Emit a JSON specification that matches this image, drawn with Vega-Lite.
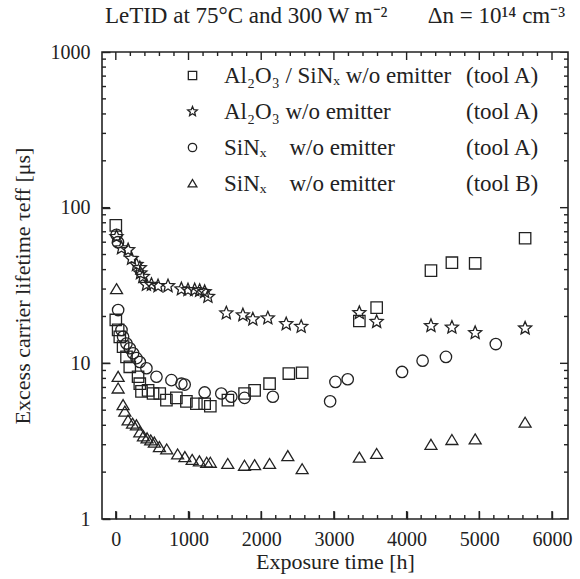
{
  "$schema": "https://vega.github.io/schema/vega-lite/v6.json",
  "autosize": "none",
  "width": 466,
  "height": 467,
  "padding": {"left": 102, "top": 52, "right": 12, "bottom": 60},
  "background": "white",
  "config": {
    "font": "Liberation Serif",
    "view": {"stroke": "#222", "strokeWidth": 1.6},
    "axis": {"domain": false, "grid": false, "labelFont": "Liberation Serif", "titleFont": "Liberation Serif", "labelFontSize": 20, "titleFontSize": 22, "labelColor": "#222", "titleColor": "#222", "titleFontWeight": "normal", "tickColor": "#222", "tickWidth": 1.4, "labelOverlap": false},
    "legend": {"labelFont": "Liberation Serif", "labelFontSize": 23, "labelColor": "#222", "labelLimit": 0}
  },
  "title": {"text": "LeTID at 75°C and 300 W m⁻²\u00a0\u00a0\u00a0\u00a0\u00a0\u00a0\u00a0Δn = 10¹⁴ cm⁻³", "font": "Liberation Serif", "fontSize": 23, "fontWeight": "normal", "color": "#222", "anchor": "middle", "offset": 14},
  "datasets": {
    "xticks": [
      {"v": 0, "kind": "major"}, {"v": 200, "kind": "minor"}, {"v": 400, "kind": "minor"}, {"v": 600, "kind": "minor"}, {"v": 800, "kind": "minor"},
      {"v": 1000, "kind": "major"}, {"v": 1200, "kind": "minor"}, {"v": 1400, "kind": "minor"}, {"v": 1600, "kind": "minor"}, {"v": 1800, "kind": "minor"},
      {"v": 2000, "kind": "major"}, {"v": 2200, "kind": "minor"}, {"v": 2400, "kind": "minor"}, {"v": 2600, "kind": "minor"}, {"v": 2800, "kind": "minor"},
      {"v": 3000, "kind": "major"}, {"v": 3200, "kind": "minor"}, {"v": 3400, "kind": "minor"}, {"v": 3600, "kind": "minor"}, {"v": 3800, "kind": "minor"},
      {"v": 4000, "kind": "major"}, {"v": 4200, "kind": "minor"}, {"v": 4400, "kind": "minor"}, {"v": 4600, "kind": "minor"}, {"v": 4800, "kind": "minor"},
      {"v": 5000, "kind": "major"}, {"v": 5200, "kind": "minor"}, {"v": 5400, "kind": "minor"}, {"v": 5600, "kind": "minor"}, {"v": 5800, "kind": "minor"},
      {"v": 6000, "kind": "major"}
    ],
    "yticks": [
      {"v": 1, "kind": "major"}, {"v": 2, "kind": "minor"}, {"v": 3, "kind": "minor"}, {"v": 4, "kind": "minor"}, {"v": 5, "kind": "minor"}, {"v": 6, "kind": "minor"}, {"v": 7, "kind": "minor"}, {"v": 8, "kind": "minor"}, {"v": 9, "kind": "minor"},
      {"v": 10, "kind": "major"}, {"v": 20, "kind": "minor"}, {"v": 30, "kind": "minor"}, {"v": 40, "kind": "minor"}, {"v": 50, "kind": "minor"}, {"v": 60, "kind": "minor"}, {"v": 70, "kind": "minor"}, {"v": 80, "kind": "minor"}, {"v": 90, "kind": "minor"},
      {"v": 100, "kind": "major"}, {"v": 200, "kind": "minor"}, {"v": 300, "kind": "minor"}, {"v": 400, "kind": "minor"}, {"v": 500, "kind": "minor"}, {"v": 600, "kind": "minor"}, {"v": 700, "kind": "minor"}, {"v": 800, "kind": "minor"}, {"v": 900, "kind": "minor"},
      {"v": 1000, "kind": "major"}
    ]
  },
  "data": {"values": [
    {"sample": "Al2O3/SiNx A", "tool": "A1", "t": 0, "tau": 77},
    {"sample": "Al2O3/SiNx A", "tool": "A1", "t": 0, "tau": 19},
    {"sample": "Al2O3/SiNx A", "tool": "A1", "t": 32, "tau": 16.4},
    {"sample": "Al2O3/SiNx A", "tool": "A1", "t": 55, "tau": 14.8},
    {"sample": "Al2O3/SiNx A", "tool": "A1", "t": 100, "tau": 12.8},
    {"sample": "Al2O3/SiNx A", "tool": "A1", "t": 147, "tau": 11},
    {"sample": "Al2O3/SiNx A", "tool": "A1", "t": 192, "tau": 9.5},
    {"sample": "Al2O3/SiNx A", "tool": "A1", "t": 306, "tau": 8.2},
    {"sample": "Al2O3/SiNx A", "tool": "A1", "t": 330, "tau": 7.4},
    {"sample": "Al2O3/SiNx A", "tool": "A1", "t": 353, "tau": 6.6},
    {"sample": "Al2O3/SiNx A", "tool": "A1", "t": 444, "tau": 6.7},
    {"sample": "Al2O3/SiNx A", "tool": "A1", "t": 512, "tau": 6.4},
    {"sample": "Al2O3/SiNx A", "tool": "A1", "t": 604, "tau": 6.4},
    {"sample": "Al2O3/SiNx A", "tool": "A1", "t": 696, "tau": 5.8},
    {"sample": "Al2O3/SiNx A", "tool": "A1", "t": 833, "tau": 6.0},
    {"sample": "Al2O3/SiNx A", "tool": "A1", "t": 971, "tau": 5.7},
    {"sample": "Al2O3/SiNx A", "tool": "A1", "t": 1108, "tau": 5.5},
    {"sample": "Al2O3/SiNx A", "tool": "A1", "t": 1222, "tau": 5.5},
    {"sample": "Al2O3/SiNx A", "tool": "A1", "t": 1300, "tau": 5.3},
    {"sample": "Al2O3/SiNx A", "tool": "A1", "t": 1542, "tau": 5.8},
    {"sample": "Al2O3/SiNx A", "tool": "A1", "t": 1771, "tau": 6.4},
    {"sample": "Al2O3/SiNx A", "tool": "A1", "t": 1909, "tau": 6.7},
    {"sample": "Al2O3/SiNx A", "tool": "A1", "t": 2115, "tau": 7.4},
    {"sample": "Al2O3/SiNx A", "tool": "A1", "t": 2380, "tau": 8.6},
    {"sample": "Al2O3/SiNx A", "tool": "A1", "t": 2563, "tau": 8.7},
    {"sample": "Al2O3/SiNx A", "tool": "A1", "t": 3350, "tau": 18.7},
    {"sample": "Al2O3/SiNx A", "tool": "A1", "t": 3588, "tau": 22.8},
    {"sample": "Al2O3/SiNx A", "tool": "A1", "t": 4335, "tau": 39.4},
    {"sample": "Al2O3/SiNx A", "tool": "A1", "t": 4623, "tau": 44.3},
    {"sample": "Al2O3/SiNx A", "tool": "A1", "t": 4943, "tau": 43.9},
    {"sample": "Al2O3/SiNx A", "tool": "A1", "t": 5630, "tau": 63.6},

    {"sample": "Al2O3 A", "tool": "A2", "t": 10, "tau": 65},
    {"sample": "Al2O3 A", "tool": "A2", "t": 78, "tau": 55},
    {"sample": "Al2O3 A", "tool": "A2", "t": 169, "tau": 53.5},
    {"sample": "Al2O3 A", "tool": "A2", "t": 216, "tau": 47},
    {"sample": "Al2O3 A", "tool": "A2", "t": 284, "tau": 43},
    {"sample": "Al2O3 A", "tool": "A2", "t": 330, "tau": 41},
    {"sample": "Al2O3 A", "tool": "A2", "t": 339, "tau": 38},
    {"sample": "Al2O3 A", "tool": "A2", "t": 371, "tau": 36},
    {"sample": "Al2O3 A", "tool": "A2", "t": 421, "tau": 32},
    {"sample": "Al2O3 A", "tool": "A2", "t": 490, "tau": 32},
    {"sample": "Al2O3 A", "tool": "A2", "t": 581, "tau": 31.4},
    {"sample": "Al2O3 A", "tool": "A2", "t": 718, "tau": 31.4},
    {"sample": "Al2O3 A", "tool": "A2", "t": 902, "tau": 30},
    {"sample": "Al2O3 A", "tool": "A2", "t": 993, "tau": 29.6},
    {"sample": "Al2O3 A", "tool": "A2", "t": 1085, "tau": 29.6},
    {"sample": "Al2O3 A", "tool": "A2", "t": 1153, "tau": 29.3},
    {"sample": "Al2O3 A", "tool": "A2", "t": 1222, "tau": 28.8},
    {"sample": "Al2O3 A", "tool": "A2", "t": 1267, "tau": 26.8},
    {"sample": "Al2O3 A", "tool": "A2", "t": 1520, "tau": 21},
    {"sample": "Al2O3 A", "tool": "A2", "t": 1748, "tau": 20.4},
    {"sample": "Al2O3 A", "tool": "A2", "t": 1885, "tau": 19.2},
    {"sample": "Al2O3 A", "tool": "A2", "t": 2091, "tau": 19.5},
    {"sample": "Al2O3 A", "tool": "A2", "t": 2344, "tau": 17.9},
    {"sample": "Al2O3 A", "tool": "A2", "t": 2550, "tau": 17.2},
    {"sample": "Al2O3 A", "tool": "A2", "t": 3350, "tau": 21.1},
    {"sample": "Al2O3 A", "tool": "A2", "t": 3588, "tau": 18.5},
    {"sample": "Al2O3 A", "tool": "A2", "t": 4335, "tau": 17.4},
    {"sample": "Al2O3 A", "tool": "A2", "t": 4623, "tau": 17},
    {"sample": "Al2O3 A", "tool": "A2", "t": 4943, "tau": 15.7},
    {"sample": "Al2O3 A", "tool": "A2", "t": 5630, "tau": 16.8},

    {"sample": "SiNx A", "tool": "A3", "t": 10, "tau": 67},
    {"sample": "SiNx A", "tool": "A3", "t": 30, "tau": 60},
    {"sample": "SiNx A", "tool": "A3", "t": 32, "tau": 22},
    {"sample": "SiNx A", "tool": "A3", "t": 78, "tau": 16.4},
    {"sample": "SiNx A", "tool": "A3", "t": 100, "tau": 14.8},
    {"sample": "SiNx A", "tool": "A3", "t": 147, "tau": 13.4},
    {"sample": "SiNx A", "tool": "A3", "t": 192, "tau": 12.5},
    {"sample": "SiNx A", "tool": "A3", "t": 238, "tau": 11.6},
    {"sample": "SiNx A", "tool": "A3", "t": 284, "tau": 10.8},
    {"sample": "SiNx A", "tool": "A3", "t": 330, "tau": 10.2},
    {"sample": "SiNx A", "tool": "A3", "t": 421, "tau": 9.3},
    {"sample": "SiNx A", "tool": "A3", "t": 559, "tau": 8.2},
    {"sample": "SiNx A", "tool": "A3", "t": 765, "tau": 7.8},
    {"sample": "SiNx A", "tool": "A3", "t": 902, "tau": 7.4},
    {"sample": "SiNx A", "tool": "A3", "t": 947, "tau": 7.3},
    {"sample": "SiNx A", "tool": "A3", "t": 1222, "tau": 6.5},
    {"sample": "SiNx A", "tool": "A3", "t": 1451, "tau": 6.4},
    {"sample": "SiNx A", "tool": "A3", "t": 1589, "tau": 6.1},
    {"sample": "SiNx A", "tool": "A3", "t": 1771, "tau": 6.0},
    {"sample": "SiNx A", "tool": "A3", "t": 2160, "tau": 6.1},
    {"sample": "SiNx A", "tool": "A3", "t": 2948, "tau": 5.7},
    {"sample": "SiNx A", "tool": "A3", "t": 3021, "tau": 7.6},
    {"sample": "SiNx A", "tool": "A3", "t": 3190, "tau": 7.9},
    {"sample": "SiNx A", "tool": "A3", "t": 3937, "tau": 8.8},
    {"sample": "SiNx A", "tool": "A3", "t": 4220, "tau": 10.4},
    {"sample": "SiNx A", "tool": "A3", "t": 4541, "tau": 11.0},
    {"sample": "SiNx A", "tool": "A3", "t": 5227, "tau": 13.3},

    {"sample": "SiNx B", "tool": "B", "t": 10, "tau": 30},
    {"sample": "SiNx B", "tool": "B", "t": 32, "tau": 8.2},
    {"sample": "SiNx B", "tool": "B", "t": 32, "tau": 6.9},
    {"sample": "SiNx B", "tool": "B", "t": 100, "tau": 5.4},
    {"sample": "SiNx B", "tool": "B", "t": 124, "tau": 4.9},
    {"sample": "SiNx B", "tool": "B", "t": 169, "tau": 4.3},
    {"sample": "SiNx B", "tool": "B", "t": 230, "tau": 4.1},
    {"sample": "SiNx B", "tool": "B", "t": 284, "tau": 4.0},
    {"sample": "SiNx B", "tool": "B", "t": 330, "tau": 3.6},
    {"sample": "SiNx B", "tool": "B", "t": 380, "tau": 3.4},
    {"sample": "SiNx B", "tool": "B", "t": 430, "tau": 3.3},
    {"sample": "SiNx B", "tool": "B", "t": 480, "tau": 3.2},
    {"sample": "SiNx B", "tool": "B", "t": 530, "tau": 3.1},
    {"sample": "SiNx B", "tool": "B", "t": 600, "tau": 2.9},
    {"sample": "SiNx B", "tool": "B", "t": 700, "tau": 2.8},
    {"sample": "SiNx B", "tool": "B", "t": 850, "tau": 2.6},
    {"sample": "SiNx B", "tool": "B", "t": 950, "tau": 2.5},
    {"sample": "SiNx B", "tool": "B", "t": 1050, "tau": 2.4},
    {"sample": "SiNx B", "tool": "B", "t": 1150, "tau": 2.35},
    {"sample": "SiNx B", "tool": "B", "t": 1250, "tau": 2.3},
    {"sample": "SiNx B", "tool": "B", "t": 1300, "tau": 2.3},
    {"sample": "SiNx B", "tool": "B", "t": 1540, "tau": 2.26},
    {"sample": "SiNx B", "tool": "B", "t": 1770, "tau": 2.2},
    {"sample": "SiNx B", "tool": "B", "t": 1909, "tau": 2.22},
    {"sample": "SiNx B", "tool": "B", "t": 2115, "tau": 2.26},
    {"sample": "SiNx B", "tool": "B", "t": 2366, "tau": 2.54},
    {"sample": "SiNx B", "tool": "B", "t": 2563, "tau": 2.09},
    {"sample": "SiNx B", "tool": "B", "t": 3350, "tau": 2.48},
    {"sample": "SiNx B", "tool": "B", "t": 3588, "tau": 2.62},
    {"sample": "SiNx B", "tool": "B", "t": 4335, "tau": 3.0},
    {"sample": "SiNx B", "tool": "B", "t": 4623, "tau": 3.22},
    {"sample": "SiNx B", "tool": "B", "t": 4943, "tau": 3.25},
    {"sample": "SiNx B", "tool": "B", "t": 5630, "tau": 4.16}
  ]},
  "resolve": {"axis": {"x": "independent", "y": "independent"}},
  "layer": [
    {
      "mark": {"type": "point", "filled": false, "strokeWidth": 1.3, "size": 130, "opacity": 1},
      "encoding": {
        "x": {"field": "t", "type": "quantitative", "scale": {"domain": [-190, 6220], "nice": false, "zero": false},
          "axis": {"orient": "bottom", "title": "Exposure time [h]", "values": [0,1000,2000,3000,4000,5000,6000], "format": "d", "tickSize": -8, "labelPadding": 18, "titlePadding": 2}},
        "y": {"field": "tau", "type": "quantitative", "scale": {"type": "log", "domain": [1, 1000], "nice": false},
          "axis": {"orient": "left", "title": "Excess carrier lifetime τeff [μs]", "values": [1,10,100,1000], "format": "d", "tickSize": -8, "labelPadding": 20, "titlePadding": 16}},
        "shape": {"field": "sample", "type": "nominal",
          "scale": {"domain": ["Al2O3/SiNx A", "Al2O3 A", "SiNx A", "SiNx B"], "range": ["square", "M0,-1.2L0.318,-0.437L1.141,-0.371L0.514,0.167L0.706,0.971L0,0.54L-0.706,0.971L-0.514,0.167L-1.141,-0.371L-0.318,-0.437Z", "circle", "M0,-0.95L1.05,0.8L-1.05,0.8Z"]},
          "legend": {"title": null, "orient": "none", "legendX": 79, "legendY": 12, "symbolSize": 70, "symbolStrokeWidth": 1.3, "symbolStrokeColor": "#222", "symbolFillColor": "transparent", "symbolOpacity": 1, "rowPadding": 12, "labelOffset": 20,
            "labelExpr": "datum.label == 'Al2O3/SiNx A' ? 'Al₂O₃ / SiNₓ w/o emitter' : datum.label == 'Al2O3 A' ? 'Al₂O₃ w/o emitter' : 'SiNₓ\u00a0\u00a0\u00a0 w/o emitter'"}},
        "color": {"field": "tool", "type": "nominal",
          "scale": {"domain": ["A1", "A2", "A3", "B"], "range": ["#222222", "#222222", "#222222", "#222222"]},
          "legend": {"title": null, "orient": "none", "legendX": 337, "legendY": 12, "symbolSize": 70, "symbolOpacity": 0, "rowPadding": 12, "labelOffset": 4,
            "labelExpr": "datum.label == 'B' ? '(tool B)' : '(tool A)'"}}
      }
    },
    {
      "data": {"name": "xticks"},
      "mark": {"type": "tick", "orient": "vertical", "thickness": 1.4, "color": "#222", "opacity": 1, "clip": true},
      "encoding": {
        "x": {"field": "v", "type": "quantitative", "axis": null},
        "y": {"datum": 1, "type": "quantitative", "axis": null},
        "size": {"field": "kind", "type": "nominal", "scale": {"domain": ["major", "minor"], "range": [16, 8]}, "legend": null}
      }
    },
    {
      "data": {"name": "xticks"},
      "mark": {"type": "tick", "orient": "vertical", "thickness": 1.4, "color": "#222", "opacity": 1, "clip": true},
      "encoding": {
        "x": {"field": "v", "type": "quantitative", "axis": null},
        "y": {"datum": 1000, "type": "quantitative", "axis": null},
        "size": {"field": "kind", "type": "nominal", "scale": {"domain": ["major", "minor"], "range": [16, 8]}, "legend": null}
      }
    },
    {
      "data": {"name": "yticks"},
      "mark": {"type": "tick", "orient": "horizontal", "thickness": 1.4, "color": "#222", "opacity": 1, "clip": true},
      "encoding": {
        "y": {"field": "v", "type": "quantitative", "axis": null},
        "x": {"datum": -190, "type": "quantitative", "axis": null},
        "size": {"field": "kind", "type": "nominal", "scale": {"domain": ["major", "minor"], "range": [16, 8]}, "legend": null}
      }
    },
    {
      "data": {"name": "yticks"},
      "mark": {"type": "tick", "orient": "horizontal", "thickness": 1.4, "color": "#222", "opacity": 1, "clip": true},
      "encoding": {
        "y": {"field": "v", "type": "quantitative", "axis": null},
        "x": {"datum": 6220, "type": "quantitative", "axis": null},
        "size": {"field": "kind", "type": "nominal", "scale": {"domain": ["major", "minor"], "range": [16, 8]}, "legend": null}
      }
    }
  ]
}
